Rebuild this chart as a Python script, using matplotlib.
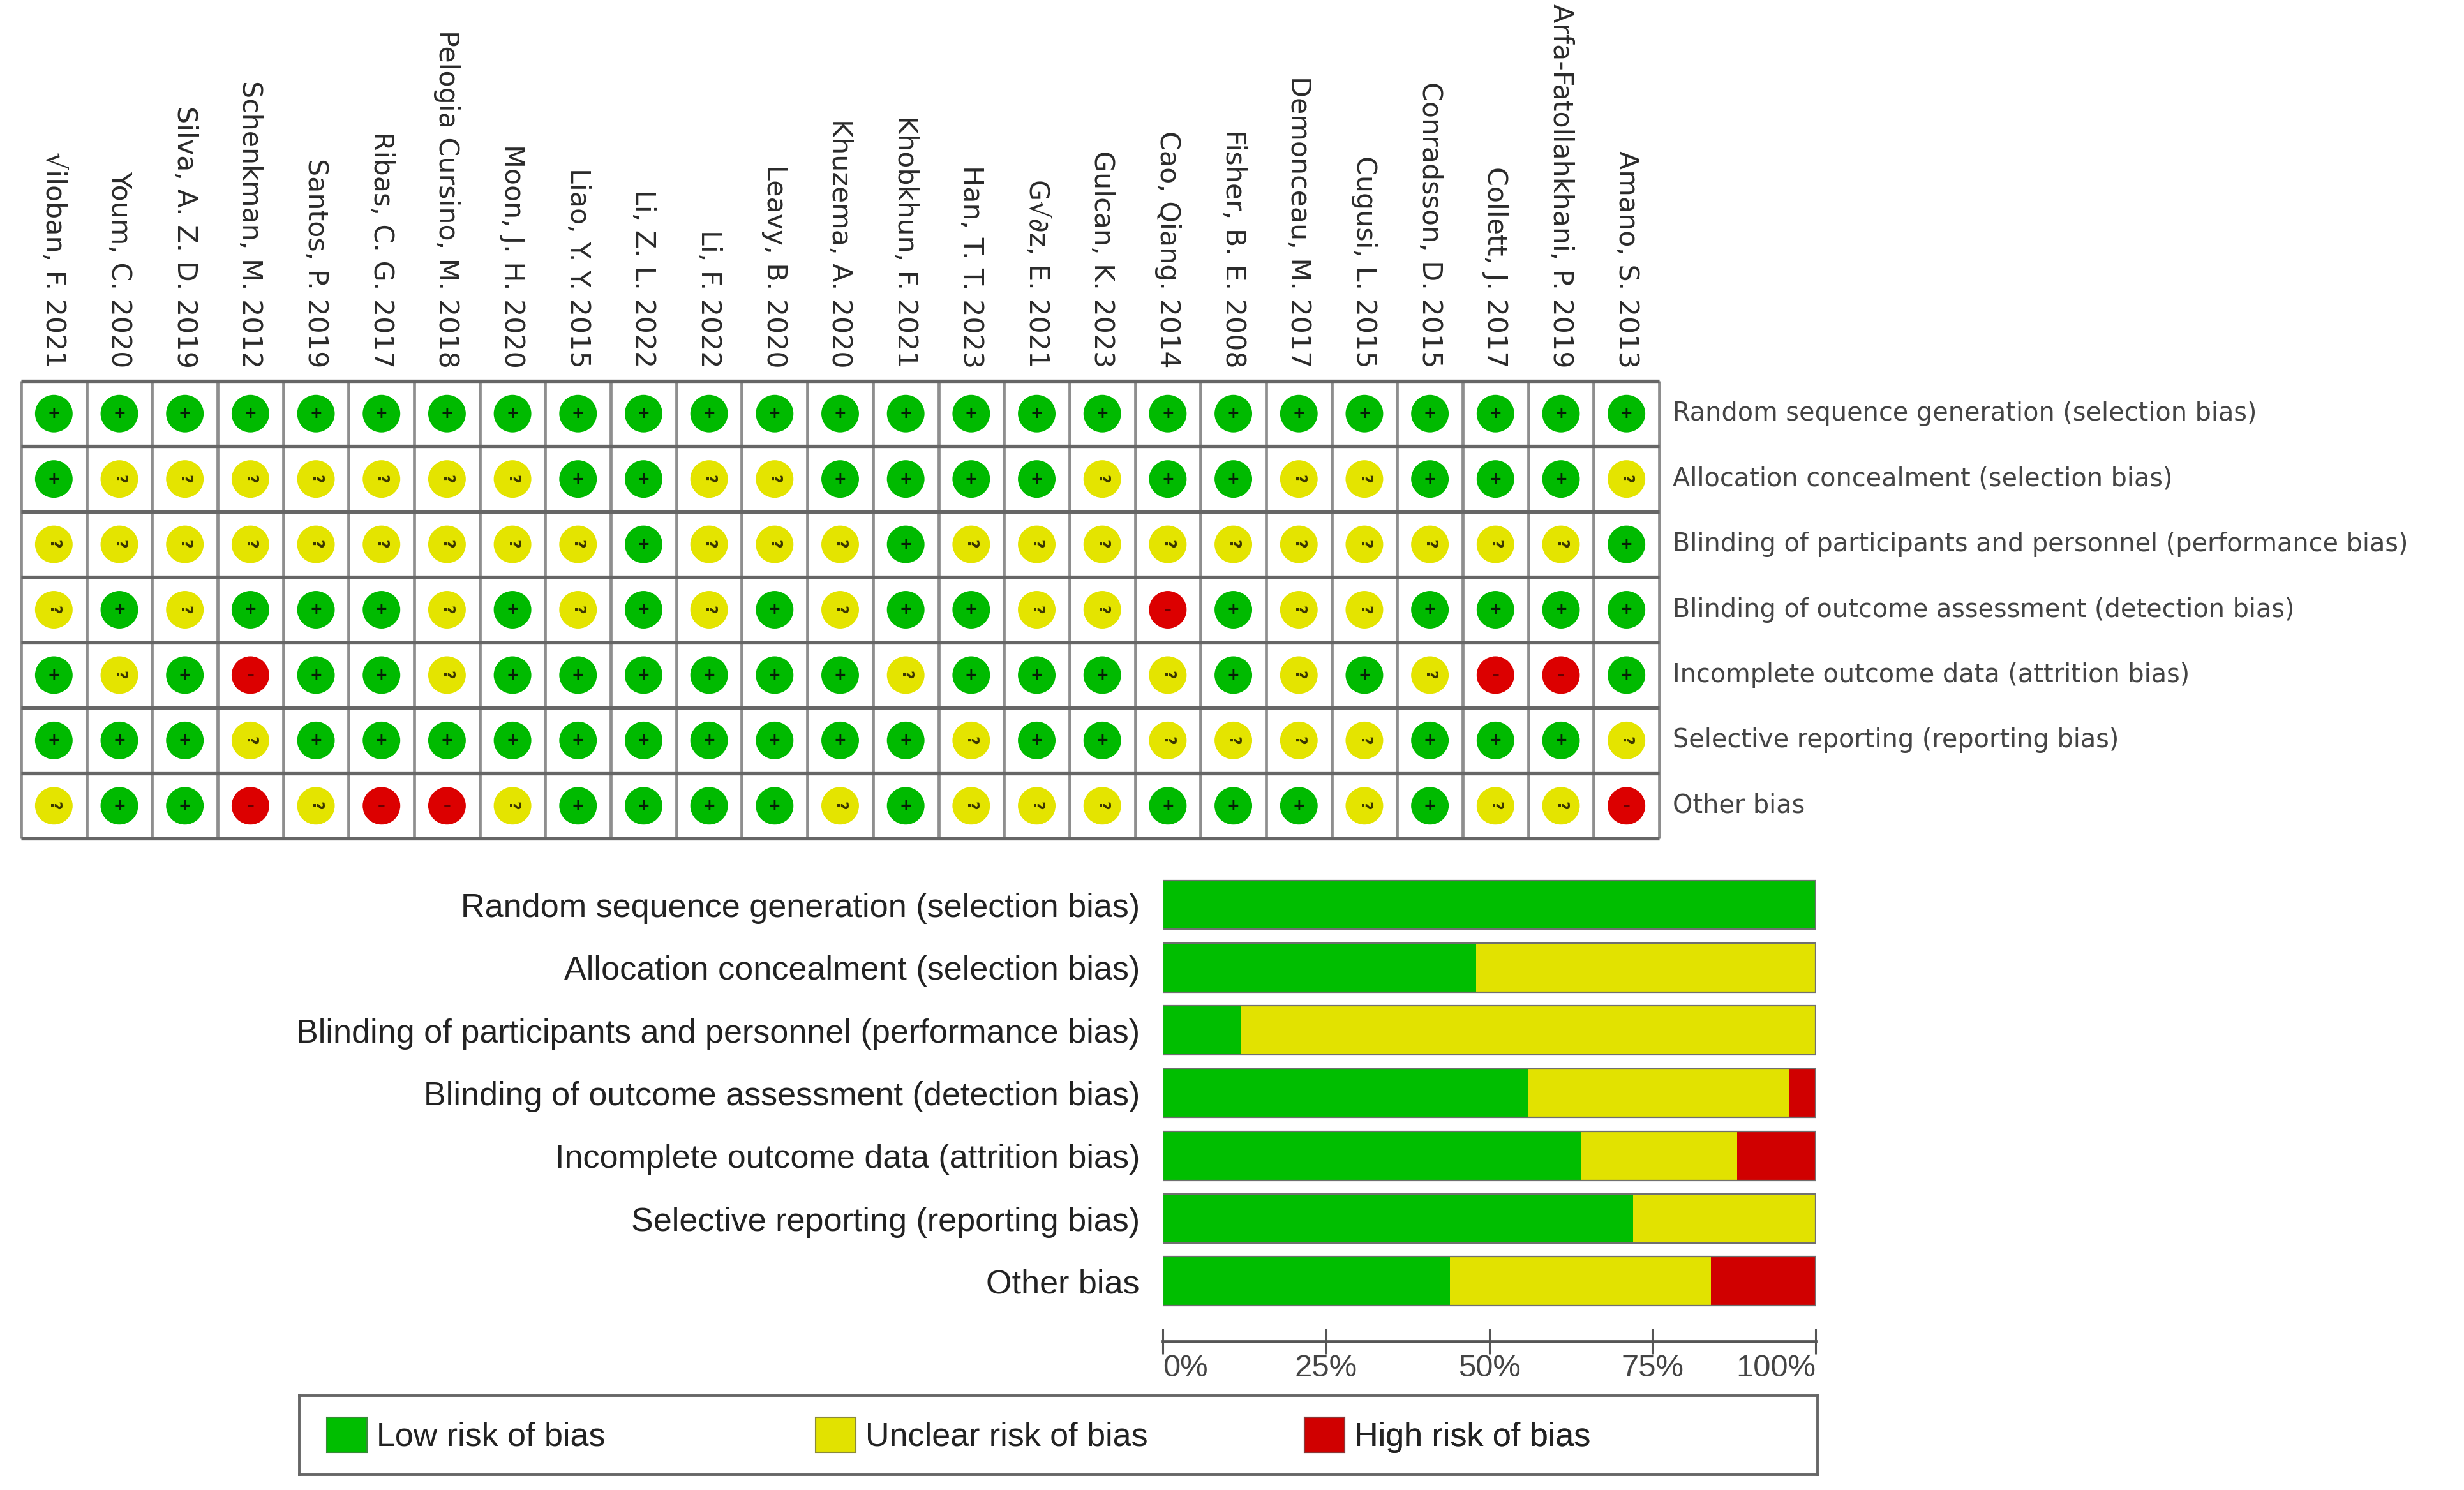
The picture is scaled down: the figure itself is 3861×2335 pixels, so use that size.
import numpy as np
import matplotlib
matplotlib.use("Agg")
import matplotlib.pyplot as plt
from matplotlib.patches import Patch
from matplotlib.textpath import TextPath
from matplotlib.font_manager import FontProperties

# ---------------- data ----------------
studies = [
    "√iloban, F. 2021", "Youm, C. 2020", "Silva, A. Z. D. 2019", "Schenkman, M. 2012",
    "Santos, P. 2019", "Ribas, C. G. 2017", "Pelogia Cursino, M. 2018", "Moon, J. H. 2020",
    "Liao, Y. Y. 2015", "Li, Z. L. 2022", "Li, F. 2022", "Leavy, B. 2020",
    "Khuzema, A. 2020", "Khobkhun, F. 2021", "Han, T. T. 2023", "G√∂z, E. 2021",
    "Gulcan, K. 2023", "Cao, Qiang. 2014", "Fisher, B. E. 2008", "Demonceau, M. 2017",
    "Cugusi, L. 2015", "Conradsson, D. 2015", "Collett, J. 2017",
    "Arfa-Fatollahkhani, P. 2019", "Amano, S. 2013",
]
domains = [
    "Random sequence generation (selection bias)",
    "Allocation concealment (selection bias)",
    "Blinding of participants and personnel (performance bias)",
    "Blinding of outcome assessment (detection bias)",
    "Incomplete outcome data (attrition bias)",
    "Selective reporting (reporting bias)",
    "Other bias",
]
# '+' low risk, '?' unclear risk, '-' high risk ; one string per domain, one char per study
random_sequence   = "+++++++++++++++++++++++++"
allocation        = "+???????++??++++?++??+++?"
blinding_partic   = "?????????+???+??????????+"
blinding_outcome  = "?+?+++?+?+?+?++??-+??++++"
incomplete_data   = "+?+-++?++++++?+++?+?+?--+"
selective_report  = "+++?++++++++++?++????+++?"
other_bias        = "?++-?--?++++?+???+++?+??-"
judgements = [random_sequence, allocation, blinding_partic, blinding_outcome,
              incomplete_data, selective_report, other_bias]
legend_labels = ["Low risk of bias", "Unclear risk of bias", "High risk of bias"]
tick_labels = ["0%", "25%", "50%", "75%", "100%"]

# ---------------- style ----------------
W, H = 3862, 2335
GREEN_C, YELLOW_C, RED_C = "#00BA00", "#E4E400", "#DC0000"
GREEN_B, YELLOW_B, RED_B = "#00BE00", "#E2E200", "#D00000"
GRID_FONT = ["DejaVu Sans"]
BAR_FONT = ["Liberation Sans Narrow", "Liberation Sans", "DejaVu Sans"]


def fit(text, family, target_px):
    w = TextPath((0, 0), text, size=1, prop=FontProperties(family=family)).get_extents().width
    return target_px * 0.72 / w


fs_study = fit("Pelogia Cursino, M. 2018", GRID_FONT, 522)
fs_row = fit("Blinding of participants and personnel (performance bias)", GRID_FONT, 1145)
fs_bar = fit("Blinding of participants and personnel (performance bias)", BAR_FONT, 1313)
fs_tick = fit("100%", BAR_FONT, 120)
fs_leg = fit("Low risk of bias", BAR_FONT, 352)

fig = plt.figure(figsize=(W / 100, H / 100), dpi=100)
fig.patch.set_facecolor("white")

n_dom, n_st = len(domains), len(studies)

# ---------------- summary grid ----------------
axg = fig.add_axes([33 / W, 1 - 1314 / H, (2600 - 33) / W, (1314 - 597) / H])
axg.set_xlim(0, n_st)
axg.set_ylim(n_dom, 0)
axg.axis("off")

cmap = {"+": GREEN_C, "?": YELLOW_C, "-": RED_C}
sym = {"+": "+", "?": "?", "-": "–"}
symcol = {"+": "#062006", "?": "#3a3500", "-": "#6a0000"}
for i, row in enumerate(judgements):
    for j, v in enumerate(row):
        axg.scatter(j + 0.5, i + 0.5, s=1800, color=cmap[v], edgecolors="none", zorder=3)
        axg.text(j + 0.5, i + 0.5, sym[v], ha="center", va="center", fontsize=17,
                 fontweight="bold", color=symcol[v], zorder=4,
                 rotation=270 if v == "?" else 0)

axg.vlines(np.arange(n_st + 1), 0, n_dom, colors="#8e8e8e", lw=3.4, clip_on=False, zorder=2)
axg.hlines(np.arange(n_dom + 1), 0, n_st, colors="#666666", lw=3.8, clip_on=False, zorder=2)

for j, name in enumerate(studies):
    axg.text(j + 0.5, -0.2, name, rotation=270, ha="center", va="bottom",
             fontsize=fs_study, color="#2a2a2a", family=GRID_FONT)
for i, dom in enumerate(domains):
    axg.text(n_st + 0.2, i + 0.5, dom, ha="left", va="center",
             fontsize=fs_row, color="#444444", family=GRID_FONT)

# ---------------- summary bar chart ----------------
arr = np.array([list(r) for r in judgements])
low = (arr == "+").sum(axis=1) / n_st * 100
unc = (arr == "?").sum(axis=1) / n_st * 100
high = (arr == "-").sum(axis=1) / n_st * 100
y = np.arange(n_dom)

axb = fig.add_axes([1822 / W, 1 - 2102 / H, (2845 - 1822) / W, (2102 - 1359) / H])
bh = 0.78
axb.barh(y, low, height=bh, color=GREEN_B, edgecolor="none")
axb.barh(y, unc, left=low, height=bh, color=YELLOW_B, edgecolor="none")
axb.barh(y, high, left=low + unc, height=bh, color=RED_B, edgecolor="none")
axb.barh(y, low + unc + high, height=bh, fill=False, edgecolor="#707070", lw=1.6)
axb.set_xlim(0, 100)
axb.set_ylim(6.958, -0.6)
for s in ("top", "right", "left"):
    axb.spines[s].set_visible(False)
axb.spines["bottom"].set_linewidth(3.4)
axb.spines["bottom"].set_color("#555555")
axb.set_xticks([0, 25, 50, 75, 100])
axb.set_xticklabels(tick_labels, fontsize=fs_tick, color="#444444", family=BAR_FONT)
axb.tick_params(axis="x", direction="inout", length=29, width=2.2, color="#555555", pad=0)
labs = axb.get_xticklabels()
labs[0].set_ha("left")
labs[-1].set_ha("right")
axb.set_yticks(y)
axb.set_yticklabels(domains, fontsize=fs_bar, color="#222222", family=BAR_FONT)
axb.tick_params(axis="y", length=0, pad=26)

# ---------------- legend ----------------
fs_px = fs_leg * 100 / 72
axl = fig.add_axes([469 / W, 1 - 2311 / H, (2848 - 469) / W, (2311 - 2187) / H])
axl.set_xticks([])
axl.set_yticks([])
for s in axl.spines.values():
    s.set_color("#666666")
    s.set_linewidth(2.8)
handles = [Patch(facecolor=GREEN_B, edgecolor="#3a8a3a", lw=1.5),
           Patch(facecolor=YELLOW_B, edgecolor="#8a8a3a", lw=1.5),
           Patch(facecolor=RED_B, edgecolor="#8a3a3a", lw=1.5)]
starts = [512, 1278, 2044]
for h, lab, x0 in zip(handles, legend_labels, starts):
    lg = axl.legend([h], [lab], loc="center left",
                    bbox_to_anchor=((x0 - 469) / (2848 - 469), 0.5),
                    frameon=False, borderpad=0, borderaxespad=0,
                    prop=FontProperties(family=BAR_FONT, size=fs_leg),
                    handlelength=63 / fs_px, handleheight=65 / fs_px,
                    handletextpad=15 / fs_px, labelcolor="#222222")
    axl.add_artist(lg)

fig.savefig("out.png", dpi=100, facecolor="white")
